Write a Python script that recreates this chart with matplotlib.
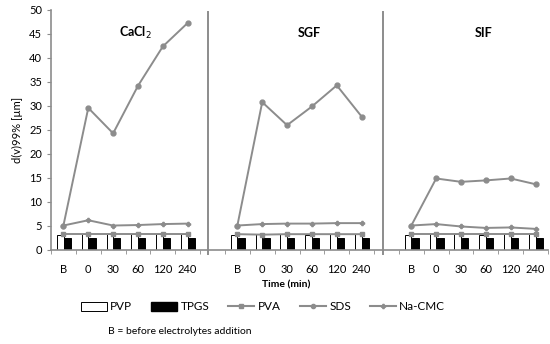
import numpy as np
import matplotlib.pyplot as plt
from matplotlib.patches import Patch
from matplotlib.lines import Line2D

plt.rcParams['font.family'] = ['Lato', 'DejaVu Sans']

# data
groups = ['CaCl$_2$', 'SGF', 'SIF']
times = ['B', '0', '30', '60', '120', '240']

pvp = [[3.1, 3.3, 3.3, 3.4, 3.3, 3.3],
       [3.1, 3.3, 3.3, 3.2, 3.3, 3.3],
       [3.2, 3.3, 3.3, 3.2, 3.4, 3.3]]
tpgs = [[2.6, 2.6, 2.6, 2.6, 2.6, 2.6],
        [2.6, 2.6, 2.6, 2.6, 2.6, 2.6],
        [2.6, 2.6, 2.6, 2.6, 2.6, 2.6]]
pva = [[3.3, 3.3, 3.3, 3.3, 3.3, 3.3],
       [3.3, 3.2, 3.3, 3.3, 3.3, 3.3],
       [3.3, 3.3, 3.3, 3.3, 3.3, 3.3]]
sds = [[5.1, 29.6, 24.3, 34.2, 42.4, 47.3],
       [5.1, 30.8, 26.0, 29.9, 34.3, 27.8],
       [5.1, 14.9, 14.2, 14.5, 14.9, 13.7]]
nacmc = [[5.1, 6.2, 5.1, 5.2, 5.4, 5.5],
         [5.1, 5.4, 5.5, 5.5, 5.6, 5.6],
         [5.1, 5.4, 4.9, 4.6, 4.7, 4.4]]

fig = plt.figure(figsize=(5.5, 3.44), dpi=100)
ax = fig.add_axes([51 / 550, 94 / 344, 497 / 550, 240 / 344])

gray = '#8c8c8c'
w = 0.27
for g in range(3):
    x = np.arange(6) + 7 * g
    ax.bar(x - 0.13, pvp[g], width=w, color='white', edgecolor='black', linewidth=0.7, zorder=2)
    ax.bar(x + 0.16, tpgs[g], width=w, color='black', edgecolor='black', linewidth=0.7, zorder=2)
    ax.plot(x, pva[g], color=gray, lw=1.4, marker='s', ms=3.5, zorder=3)
    ax.plot(x, sds[g], color=gray, lw=1.4, marker='o', ms=3.5, zorder=3)
    ax.plot(x, nacmc[g], color=gray, lw=1.4, marker='P', ms=3, zorder=3)
    ax.text(7 * g + 2.9, 45.2, groups[g], ha='center', va='center', fontsize=9, fontweight='bold')

# separators between panels
for xs in [5.82, 12.85]:
    ax.plot([xs, xs], [-0.9, 49.5], color=gray, lw=1.4, clip_on=False)

ax.set_xlim(-0.5, 19.5)
ax.set_ylim(0, 50)
ax.set_yticks(np.arange(0, 51, 5))
pos = [7 * g + i for g in range(3) for i in range(6)]
ax.set_xticks(pos)
ax.set_xticklabels(times * 3)
ax.set_xticks(np.arange(-0.5, 20, 1), minor=True)
ax.tick_params(axis='x', which='major', length=0, pad=10, labelsize=8)
ax.tick_params(axis='x', which='minor', length=3, color=gray)
ax.tick_params(axis='y', length=3, color=gray, labelsize=8)
for s in ['top', 'right']:
    ax.spines[s].set_visible(False)
for s in ['left', 'bottom']:
    ax.spines[s].set_color(gray)
    ax.spines[s].set_linewidth(1.2)

ax.set_ylabel('d(v)99% [µm]', fontsize=8)
fig.text(286 / 550, 1 - 285 / 344, 'Time (min)', ha='center', va='center', fontsize=7.5, fontweight='bold')

handles = [Patch(facecolor='white', edgecolor='black', lw=0.7),
           Patch(facecolor='black', edgecolor='black'),
           Line2D([], [], color=gray, marker='s', ms=3),
           Line2D([], [], color=gray, marker='o', ms=3),
           Line2D([], [], color=gray, marker='P', ms=3)]
fig.legend(handles, ['PVP', 'TPGS', 'PVA', 'SDS', 'Na-CMC'], ncol=5, frameon=False,
           loc='center', bbox_to_anchor=(263 / 550, 1 - 307 / 344), fontsize=8.5,
           handlelength=2.2, handletextpad=0.3, columnspacing=1.6)
fig.text(108 / 550, 1 - 331 / 344, 'B = before electrolytes addition', ha='left', va='center', fontsize=7.5)

fig.savefig('out.png', dpi=100)
